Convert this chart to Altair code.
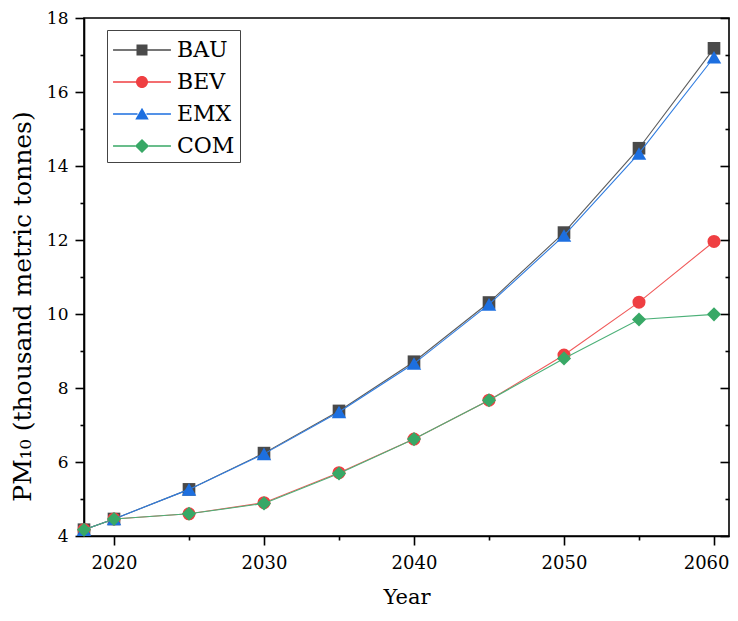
import altair as alt
import pandas as pd

years = [2018, 2020, 2025, 2030, 2035, 2040, 2045, 2050, 2055, 2060]
bau = [4.17, 4.46, 5.26, 6.24, 7.38, 8.71, 10.31, 12.2, 14.48, 17.18]
bev = [4.17, 4.46, 4.6, 4.9, 5.71, 6.62, 7.67, 8.89, 10.32, 11.96]
emx = [4.17, 4.46, 5.26, 6.22, 7.35, 8.66, 10.26, 12.12, 14.34, 16.94]
com = [4.17, 4.46, 4.6, 4.88, 5.69, 6.62, 7.67, 8.8, 9.85, 9.99]

scenarios = ["BAU", "BEV", "EMX", "COM"]
series = [bau, bev, emx, com]
marker_colors = ["#4a4a4a", "#ef3f42", "#1d6fe0", "#38a866"]
line_colors = ["#5c5c5c", "#f05a5a", "#2f7ce0", "#4cb078"]
shapes = ["square", "circle", "triangle-up", "diamond"]
sizes = [160, 170, 210, 200]

x_ticks = [2020, 2025, 2030, 2035, 2040, 2045, 2050, 2055, 2060]
y_ticks = list(range(4, 19))

# legend symbols: line segments + marker as custom paths
legend_paths = [
    "M-1.93,-0.045H-0.36V0.045H-1.93Z M0.36,-0.045H1.93V0.045H0.36Z M-0.367,-0.367H0.367V0.367H-0.367Z",
    "M-1.93,-0.045H-0.39V0.045H-1.93Z M0.39,-0.045H1.93V0.045H0.39Z M-0.4,0A0.4,0.4 0 1,1 0.4,0A0.4,0.4 0 1,1 -0.4,0Z",
    "M-1.93,-0.045H-0.3V0.045H-1.93Z M0.3,-0.045H1.93V0.045H0.3Z M0,-0.42L0.45,0.36L-0.45,0.36Z",
    "M-1.93,-0.045H-0.45V0.045H-1.93Z M0.45,-0.045H1.93V0.045H0.45Z M0,-0.47L0.47,0L0,0.47L-0.47,0Z",
]

rows = []
for name, vals in zip(scenarios, series):
    for yr, v in zip(years, vals):
        rows.append({"Year": yr, "Value": v, "Scenario": name})
df = pd.DataFrame(rows)

FONT = "DejaVu Serif"
xs = alt.Scale(domain=[2018, 2061], nice=False, zero=False)
ys = alt.Scale(domain=[4, 18], nice=False, zero=False)

base = alt.Chart(df)

x_axis = alt.Axis(
    values=x_ticks, format="d", title="Year",
    labelExpr="datum.value % 10 === 0 ? datum.label : ''",
    tickSize={"condition": {"test": "datum.value % 10 === 0", "value": 9}, "value": 4},
    labelFontSize=18, titleFontSize=21, labelPadding=9, titlePadding=14,
    labelFlush=20, labelFlushOffset=15,
    labelFont=FONT, titleFont=FONT, titleFontWeight="normal",
    grid=False,
)
y_axis = alt.Axis(
    values=y_ticks, title="PM₁₀ (thousand metric tonnes)",
    labelExpr="datum.value % 2 === 0 ? datum.label : ''",
    tickSize={"condition": {"test": "datum.value % 2 === 0", "value": 9}, "value": 4},
    labelFontSize=17, titleFontSize=25, labelPadding=7, titlePadding=11,
    titleY=288,
    labelFont=FONT, titleFont=FONT, titleFontWeight="normal",
    grid=False,
)
y_right_major = alt.Axis(
    orient="right", values=[v for v in y_ticks if v % 2 == 0], labels=False, title=None,
    domain=False, tickSize=9, offset=-9, grid=False,
)
y_right_minor = alt.Axis(
    orient="right", values=[v for v in y_ticks if v % 2 == 1], labels=False, title=None,
    domain=False, tickSize=4, offset=-4, grid=False,
)

layers = []
first = True
for name, mc, lc, shp, sz in zip(scenarios, marker_colors, line_colors, shapes, sizes):
    sub = base.transform_filter(alt.datum.Scenario == name)
    line = sub.mark_line(color=lc, strokeWidth=1.1).encode(
        x=alt.X("Year:Q", scale=xs, axis=x_axis if first else None),
        y=alt.Y("Value:Q", scale=ys, axis=y_axis if first else None),
        order="Year:Q",
    )
    pts = sub.mark_point(filled=True, shape=shp, size=sz, color=mc, opacity=1).encode(
        x=alt.X("Year:Q", scale=xs, axis=None),
        y=alt.Y("Value:Q", scale=ys, axis=None),
    )
    layers += [line, pts]
    first = False

right_major = base.mark_line(opacity=0).encode(
    x=alt.X("Year:Q", scale=xs, axis=None),
    y=alt.Y("Value:Q", scale=ys, axis=y_right_major),
    detail="Scenario:N",
)
right_minor = base.mark_line(opacity=0).encode(
    x=alt.X("Year:Q", scale=xs, axis=None),
    y=alt.Y("Value:Q", scale=ys, axis=y_right_minor),
    detail="Scenario:N",
)

leg = dict(
    title=None, orient="none", legendX=23, legendY=12,
    strokeColor="#444", fillColor="white", padding=5,
    symbolSize=900, symbolStrokeWidth=0, symbolOffset=15,
    labelOffset=20, labelFontSize=22, labelFont=FONT, labelColor="black",
    rowPadding=6,
)

legend_layer = base.transform_filter("datum.Year < 0").mark_point(filled=True, opacity=1).encode(
    color=alt.Color(
        "Scenario:N",
        scale=alt.Scale(domain=scenarios, range=marker_colors),
        sort=scenarios,
        legend=alt.Legend(**leg),
    ),
    shape=alt.Shape(
        "Scenario:N",
        scale=alt.Scale(domain=scenarios, range=legend_paths),
        sort=scenarios,
        legend=alt.Legend(**leg),
    ),
)

chart = alt.layer(*layers, right_major, right_minor, legend_layer).resolve_axis(
    x="independent", y="independent"
).properties(
    width=645, height=518,
    autosize=alt.AutoSizeParams(type="none"),
    padding={"left": 76, "top": 10, "right": 1, "bottom": 76},
    background="white",
).configure_view(
    stroke="black", strokeWidth=1.6,
).configure_axis(
    labelFont=FONT, titleFont=FONT, titleFontWeight="normal",
    labelColor="black", titleColor="black",
    domainColor="black", tickColor="black", domainWidth=1.6, tickWidth=1.6,
)

chart.save("out.html", embed_options={"renderer": "svg", "actions": False})
